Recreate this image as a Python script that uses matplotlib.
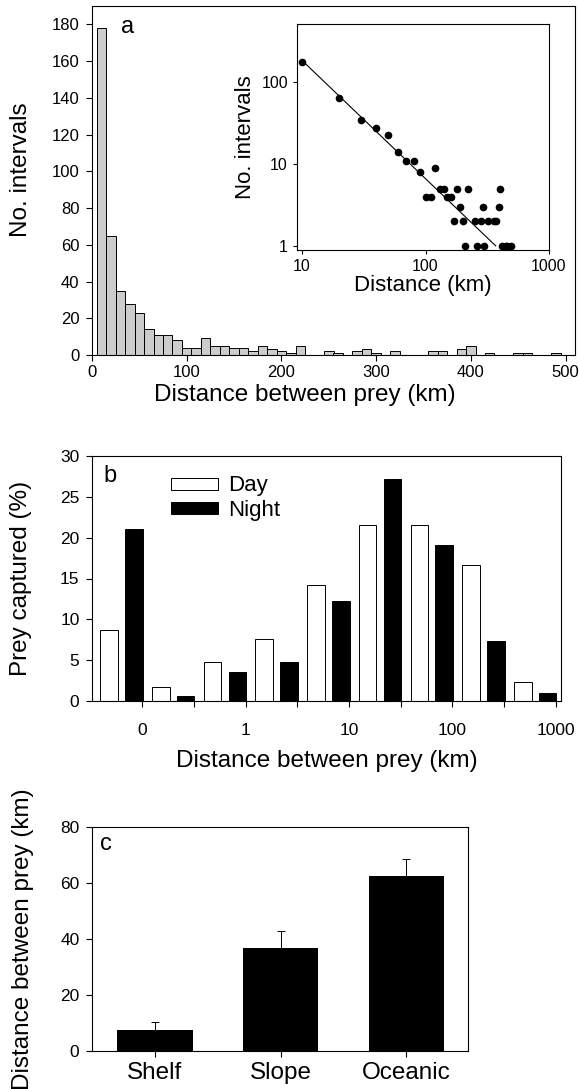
import numpy as np
import matplotlib
matplotlib.use("Agg")
import matplotlib.pyplot as plt

plt.rcParams["font.family"] = ["Liberation Sans", "DejaVu Sans"]
plt.rcParams["axes.linewidth"] = 0.8
plt.rcParams["xtick.direction"] = "out"
plt.rcParams["ytick.direction"] = "out"
plt.rcParams["xtick.major.width"] = 0.8
plt.rcParams["ytick.major.width"] = 0.8
plt.rcParams["xtick.major.size"] = 4
plt.rcParams["ytick.major.size"] = 4

# (a) histogram of distances between successive prey, 10 km bins
bin_centers = [10, 20, 30, 40, 50, 60, 70, 80, 90, 100, 110, 120, 130, 140,
               150, 160, 170, 180, 190, 200, 210, 220, 250, 260, 280, 290,
               300, 320, 360, 370, 390, 400, 420, 450, 460, 490]
counts = [178, 65, 35, 28, 23, 14, 11, 11, 8, 4, 4, 9, 5, 5,
          4, 4, 2, 5, 3, 2, 1, 5, 2, 1, 2, 3,
          1, 2, 2, 2, 3, 5, 1, 1, 1, 1]
# power-law fit line endpoints on the log-log inset
fit_x = [10, 370]
fit_y = [186, 1]

# (b) day/night prey capture by distance class
dist_labels = ["0", "1", "10", "100", "1000"]
day_pct = [8.7, 1.7, 4.8, 7.6, 14.2, 21.5, 21.5, 16.7, 2.3]
night_pct = [21.1, 0.6, 3.6, 4.8, 12.3, 27.2, 19.1, 7.3, 1.0]

# (c) mean distance by habitat
habitats = ["Shelf", "Slope", "Oceanic"]
hab_mean = [7.5, 36.7, 62.5]
hab_se = [3.0, 6.0, 5.9]

W, H = 579, 1089
LAB = 17.5
TCK = 12.5
fig = plt.figure(figsize=(W / 100, H / 100), dpi=100)


def box(l, t, r, b):
    return [l / W, 1 - b / H, (r - l) / W, (b - t) / H]


# ---- panel a
ax_a = fig.add_axes(box(92, 6, 575, 355))
ax_a.bar(bin_centers, counts, width=10, color="0.8", edgecolor="k",
         linewidth=0.7)
ax_a.set_xlim(0, 510)
ax_a.set_ylim(0, 190)
ax_a.set_xticks([0, 100, 200, 300, 400, 500])
ax_a.set_yticks(np.arange(0, 181, 20))
ax_a.tick_params(labelsize=12)
ax_a.tick_params(axis="x", pad=3)
ax_a.tick_params(axis="y", pad=5)
ax_a.set_xlabel("Distance between prey (km)", fontsize=LAB)
ax_a.set_ylabel("No. intervals", fontsize=LAB)
ax_a.xaxis.set_label_coords(0.44, -0.082)
ax_a.yaxis.set_label_coords(-0.124, 0.53)
ax_a.text(0.06, 0.97, "a", transform=ax_a.transAxes, fontsize=17,
          va="top", ha="left")

# inset: log-log
ax_i = fig.add_axes(box(297, 24, 549, 250))
ax_i.set_xscale("log")
ax_i.set_yscale("log")
ax_i.plot(bin_centers, counts, "o", color="k", ms=4.5)
ax_i.plot(fit_x, fit_y, "-", color="k", lw=0.8)
ax_i.set_xlim(9.1, 1000)
ax_i.set_ylim(0.89, 520)
ax_i.set_xticks([10, 100, 1000])
ax_i.set_xticklabels(["10", "100", "1000"])
ax_i.set_yticks([1, 10, 100])
ax_i.set_yticklabels(["1", "10", "100"])
ax_i.minorticks_off()
ax_i.tick_params(labelsize=11.5, length=3)
ax_i.set_xlabel("Distance (km)", fontsize=16, labelpad=1)
ax_i.set_ylabel("No. intervals", fontsize=16, labelpad=4)

# ---- panel b
ax_b = fig.add_axes(box(92, 456, 561, 701))
x = np.arange(len(day_pct))
ax_b.bar(x - 0.24, day_pct, width=0.34, color="white", edgecolor="k",
         linewidth=0.7, label="Day")
ax_b.bar(x + 0.24, night_pct, width=0.34, color="k", edgecolor="k",
         linewidth=0.7, label="Night")
ax_b.set_xlim(-0.57, 8.5)
ax_b.set_ylim(0, 30)
ticks_b = x + 0.4
ax_b.set_xticks(ticks_b)
ax_b.set_xticklabels([dist_labels[i // 2] if i % 2 == 0 else ""
                      for i in range(len(ticks_b))])
ax_b.set_yticks(np.arange(0, 31, 5))
ax_b.tick_params(labelsize=TCK)
ax_b.tick_params(axis="x", pad=12)
ax_b.tick_params(axis="y", pad=5)
ax_b.set_xlabel("Distance between prey (km)", fontsize=LAB)
ax_b.set_ylabel("Prey captured (%)", fontsize=LAB)
ax_b.xaxis.set_label_coords(0.5, -0.2)
ax_b.yaxis.set_label_coords(-0.127, 0.5)
ax_b.text(0.024, 0.963, "b", transform=ax_b.transAxes, fontsize=17,
          va="top", ha="left")
ax_b.legend(loc="upper left", bbox_to_anchor=(0.14, 0.975), frameon=False,
            fontsize=16, handlelength=2.1, handleheight=0.45,
            handletextpad=0.45, labelspacing=0.15, borderaxespad=0.2)

# ---- panel c
ax_c = fig.add_axes(box(92, 827, 468, 1051))
xc = np.arange(len(habitats))
ax_c.bar(xc, hab_mean, width=0.6, color="k")
ax_c.errorbar(xc, hab_mean, yerr=[np.zeros(len(hab_se)), hab_se], fmt="none",
              ecolor="k", elinewidth=0.7, capsize=3, capthick=0.7)
ax_c.set_xlim(-0.5, 2.49)
ax_c.set_ylim(0, 80)
ax_c.set_xticks(xc)
ax_c.set_xticklabels(habitats, fontsize=LAB)
ax_c.tick_params(axis="x", pad=4)
ax_c.set_yticks(np.arange(0, 81, 20))
ax_c.tick_params(axis="y", labelsize=TCK, pad=5)
ax_c.set_ylabel("Distance between prey (km)", fontsize=LAB)
ax_c.yaxis.set_label_coords(-0.155, 0.5)
ax_c.text(0.022, 0.975, "c", transform=ax_c.transAxes, fontsize=17,
          va="top", ha="left")

fig.savefig("out.png", dpi=100)
